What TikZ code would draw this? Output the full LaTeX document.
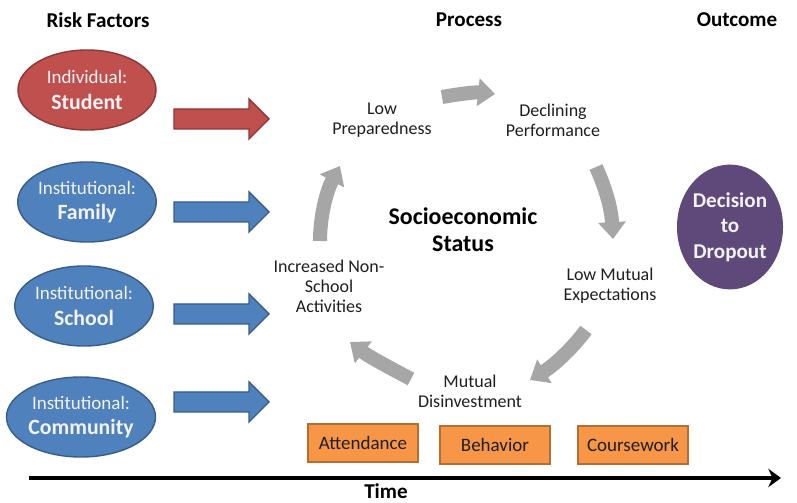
\documentclass[tikz,border=0pt]{standalone}
\usepackage{fontspec}
\setmainfont{Carlito}
\usetikzlibrary{arrows.meta,shapes.geometric}
\definecolor{redf}{HTML}{C0504D}
\definecolor{redd}{HTML}{8C3836}
\definecolor{bluef}{HTML}{4F81BD}
\definecolor{blued}{HTML}{385D8A}
\definecolor{purp}{HTML}{5F497A}
\definecolor{orgf}{HTML}{F79646}
\definecolor{orgd}{HTML}{B66D31}
\definecolor{grayarr}{HTML}{A6A6A6}
\definecolor{txtw}{HTML}{F2F2F2}
\definecolor{txtd}{HTML}{1F1F1F}
\newcommand\blkarrow[3]{%
  \filldraw[fill=#1,draw=#2,line width=1pt]
    (174,#3-10) -- (249,#3-10) -- (249,#3-20) -- (269,#3) -- (249,#3+20)
    -- (249,#3+10) -- (174,#3+10) -- cycle;}
\newcommand\riskbig{\fontsize{15.5}{18}\selectfont\bfseries}
\begin{document}
\begin{tikzpicture}[x=0.025cm,y=-0.025cm,
  title/.style={font=\fontsize{15}{17}\selectfont\bfseries, text=black, inner sep=0pt},
  risk/.style={ellipse, minimum width=3.45cm, minimum height=2.0cm, inner sep=0pt,
     line width=1pt, align=center, text=txtw, font=\fontsize{13.5}{18}\selectfont},
  riskred/.style={risk, fill=redf, draw=redd},
  riskblue/.style={risk, fill=bluef, draw=blued},
  proc/.style={align=center, text=txtd, inner sep=0pt,
     font=\fontsize{12.8}{14.2}\selectfont},
  orgbox/.style={rectangle, fill=orgf, draw=orgd, line width=1.4pt,
     minimum width=2.75cm, minimum height=0.97cm, inner sep=0pt,
     font=\fontsize{13.5}{15}\selectfont, text=txtd},
  grayarrow/.style={draw=grayarr, line width=10pt,
     -{Triangle[width=19pt,length=12pt]}},
  timearrow/.style={draw=black, line width=2.8pt,
     -{Stealth[width=13pt,length=9pt]}}
]
\useasboundingbox (0,0) rectangle (797,503);
\fill[white] (0,0) rectangle (797,503);

% column titles
\node[title] (tRisk) at (98,20) {Risk Factors};
\node[title] (tProc) at (469,20) {Process};
\node[title] (tOut) at (737,20) {Outcome};

% risk factor ellipses
\node[riskred] (student) at (87,90) {Individual:\\{\riskbig Student}};
\node[riskblue] (family) at (87,202) {Institutional:\\{\riskbig Family}};
\node[riskblue] (school) at (84,306) {Institutional:\\{\riskbig School}};
\node[riskblue] (community) at (81,417) {Institutional:\\{\riskbig Community}};

% block arrows
\blkarrow{redf}{redd}{119}
\blkarrow{bluef}{blued}{212}
\blkarrow{bluef}{blued}{314}
\blkarrow{bluef}{blued}{402}

% process labels
\node[proc] (prep) at (382,120) {Low\\Preparedness};
\node[proc] (perf) at (553,120) {Declining\\Performance};
\node[proc] (expect) at (610,286) {Low Mutual\\Expectations};
\node[proc] (disinv) at (470,391) {Mutual\\Disinvestment};
\node[proc] (nonsch) at (329,286) {Increased Non-\\School\\Activities};
\node[align=center, inner sep=0pt, text=black,
      font=\fontsize{17}{19}\selectfont\bfseries] (ses) at (463,230) {Socioeconomic\\Status};

% cycle arrows
\coordinate (a1s) at (442,97);  \coordinate (a1e) at (495,94);
\coordinate (a2s) at (596,167); \coordinate (a2e) at (613,239);
\coordinate (a3s) at (586,330); \coordinate (a3e) at (530,380);
\coordinate (a4s) at (411,379); \coordinate (a4e) at (350,342);
\coordinate (a5s) at (320,241); \coordinate (a5e) at (340,166);
\draw[grayarrow] (a1s) .. controls (459,94) and (476,92) .. (a1e);
\draw[grayarrow] (a2s) .. controls (604,185) and (611,205) .. (a2e);
\draw[grayarrow] (a3s) .. controls (572,349) and (553,366) .. (a3e);
\draw[grayarrow] (a4s) .. controls (390,368) and (368,356) .. (a4e);
\draw[grayarrow] (a5s) .. controls (320,215) and (327,190) .. (a5e);

% outcome
\node[ellipse, fill=purp, minimum width=2.65cm, minimum height=3.12cm, inner sep=0pt,
      align=center, text=txtw, font=\fontsize{15}{18}\selectfont\bfseries]
      (decision) at (730,227) {Decision\\to\\Dropout};

% indicators
\node[orgbox] (attend) at (363,443) {Attendance};
\node[orgbox] (behav) at (495,445) {Behavior};
\node[orgbox] (course) at (633,445) {Coursework};

% time axis
\coordinate (t0) at (29,478);
\coordinate (t1) at (781,478);
\draw[timearrow] (t0) -- (t1);
\node[title, anchor=base] (time) at (386,499) {Time};
\end{tikzpicture}
\end{document}
